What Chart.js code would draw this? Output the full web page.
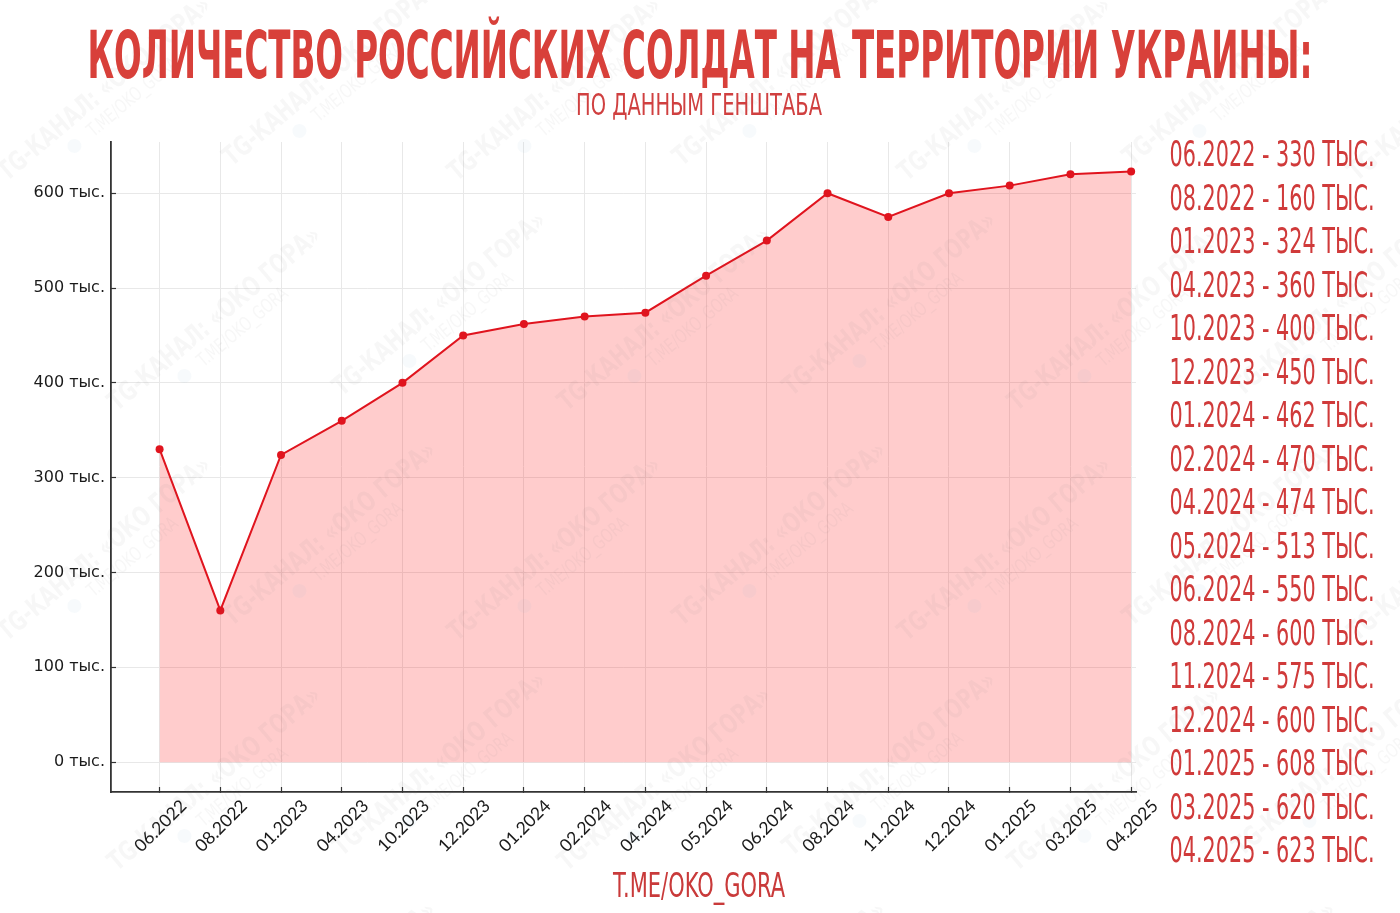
<!DOCTYPE html>
<html>
<head>
<meta charset="utf-8">
<script src="https://cdn.jsdelivr.net/npm/chart.js@4.4.1/dist/chart.umd.min.js"></script>
<style>
  html, body { margin: 0; padding: 0; background: #fff; }
  body { width: 1400px; height: 913px; position: relative; overflow: hidden; }
  #c { position: absolute; left: 0; top: 0; }
</style>
</head>
<body>
<canvas id="c" width="1400" height="913"></canvas>
<script>
const categories = ["06.2022","08.2022","01.2023","04.2023","10.2023","12.2023","01.2024","02.2024","04.2024","05.2024","06.2024","08.2024","11.2024","12.2024","01.2025","03.2025","04.2025"];
const soldiers = [330,160,324,360,400,450,462,470,474,513,550,600,575,600,608,620,623];
const yTicks = [0,100,200,300,400,500,600];
const unitLabel = "тыс.";
const listUnit = "ТЫС.";
const titleText = "КОЛИЧЕСТВО РОССИЙСКИХ СОЛДАТ НА ТЕРРИТОРИИ УКРАИНЫ:";
const subtitleText = "ПО ДАННЫМ ГЕНШТАБА";
const footerText = "T.ME/OKO_GORA";
const watermarkText = "TG-КАНАЛ: «ОКО ГОРА»";

const NARROW = '"Liberation Sans Narrow", "DejaVu Sans Condensed", "Liberation Sans", sans-serif';

function fitText(ctx, text, cx, baseline, font, targetW, color, scaleOverride) {
  ctx.save();
  ctx.font = font;
  ctx.fillStyle = color;
  ctx.textAlign = 'center';
  ctx.textBaseline = 'alphabetic';
  const w = ctx.measureText(text).width;
  const s = scaleOverride || (targetW / w);
  ctx.translate(cx, baseline);
  ctx.scale(s, 1);
  ctx.fillText(text, 0, 0);
  ctx.restore();
}

const textsPlugin = {
  id: 'texts',
  afterDraw(chart) {
    const ctx = chart.ctx;
    const xs = chart.scales.x;

    // rotated x tick labels
    ctx.save();
    ctx.fillStyle = '#1a1a1a';
    ctx.font = '17.5px Lato, "Open Sans", sans-serif';
    ctx.textAlign = 'center';
    ctx.textBaseline = 'middle';
    categories.forEach((c, i) => {
      const x = xs.getPixelForValue(i);
      ctx.save();
      ctx.translate(x + 1, 826);
      ctx.rotate(-Math.PI / 4);
      ctx.fillText(c, 0, 0);
      ctx.restore();
    });
    ctx.restore();

    // faint watermarks
    ctx.save();
    for (let row = 0; row < 5; row++) {
      for (let col = 0; col < 7; col++) {
        const cx = 110 + col * 225 + (row % 2) * 110;
        const cy = 95 + row * 230 - (col % 2) * 15;
        ctx.save();
        ctx.translate(cx, cy);
        ctx.rotate(-0.7);
        ctx.fillStyle = 'rgba(110,110,110,0.055)';
        ctx.font = 'bold 27px ' + NARROW;
        ctx.textAlign = 'center';
        ctx.save();
        ctx.scale(0.8, 1);
        ctx.fillText(watermarkText, 0, 0);
        ctx.font = '19px ' + NARROW;
        ctx.fillText(footerText, 20, 22);
        ctx.restore();
        ctx.beginPath();
        ctx.arc(-60, 16, 7, 0, Math.PI * 2);
        ctx.fillStyle = 'rgba(120,170,200,0.06)';
        ctx.fill();
        ctx.restore();
      }
    }
    ctx.restore();

    // title, subtitle, footer
    fitText(ctx, titleText, 700, 78, 'bold 65px ' + NARROW, 1225, '#d8403a');
    fitText(ctx, subtitleText, 699, 115, '31px ' + NARROW, 246, '#d04040');
    fitText(ctx, footerText, 699, 897, '34px ' + NARROW, 172, '#c93a3a');

    // right-side list
    const first = categories[0] + ' - ' + soldiers[0] + ' ' + listUnit;
    ctx.save();
    ctx.font = '36px ' + NARROW;
    const s = 205 / ctx.measureText(first).width;
    ctx.restore();
    categories.forEach((c, i) => {
      fitText(ctx, c + ' - ' + soldiers[i] + ' ' + listUnit, 1272, 166 + i * 43.5, '36px ' + NARROW, 205, '#d03a3a', s);
    });
  }
};

new Chart(document.getElementById('c'), {
  type: 'line',
  data: {
    datasets: [{
      data: soldiers.map((v, i) => ({ x: i, y: v })),
      borderColor: '#e0141e',
      borderWidth: 2,
      backgroundColor: 'rgba(255,0,0,0.2)',
      fill: 'origin',
      pointRadius: 4,
      pointBackgroundColor: '#e0141e',
      pointBorderColor: '#e0141e',
      pointBorderWidth: 0,
      tension: 0
    }]
  },
  options: {
    responsive: false,
    animation: false,
    devicePixelRatio: 1,
    layout: { padding: { left: 0, top: 142, right: 1400 - 1136, bottom: 0 } },
    plugins: { legend: { display: false }, tooltip: { enabled: false } },
    scales: {
      x: {
        type: 'linear',
        min: -0.8,
        max: 16.08,
        afterBuildTicks: s => { s.ticks = categories.map((c, i) => ({ value: i })); },
        afterFit: s => { s.height = 913 - 792; },
        ticks: { display: false },
        grid: { color: '#e8e8e8', lineWidth: 1, drawTicks: true, tickLength: -5, tickColor: '#333', tickWidth: 1.2 },
        border: { display: true, color: '#333', width: 1.8 }
      },
      y: {
        type: 'linear',
        min: -31.5,
        max: 654,
        afterBuildTicks: s => { s.ticks = yTicks.map(v => ({ value: v })); },
        afterFit: s => { s.width = 111; },
        ticks: {
          padding: 11,
          color: '#1a1a1a',
          font: { family: '"DejaVu Sans"', size: 16 },
          callback: v => v + ' ' + unitLabel
        },
        grid: { color: '#e8e8e8', lineWidth: 1, drawTicks: true, tickLength: -5, tickColor: '#333', tickWidth: 1.2 },
        border: { display: true, color: '#333', width: 1.8 }
      }
    }
  },
  plugins: [textsPlugin]
});
</script>
</body>
</html>
